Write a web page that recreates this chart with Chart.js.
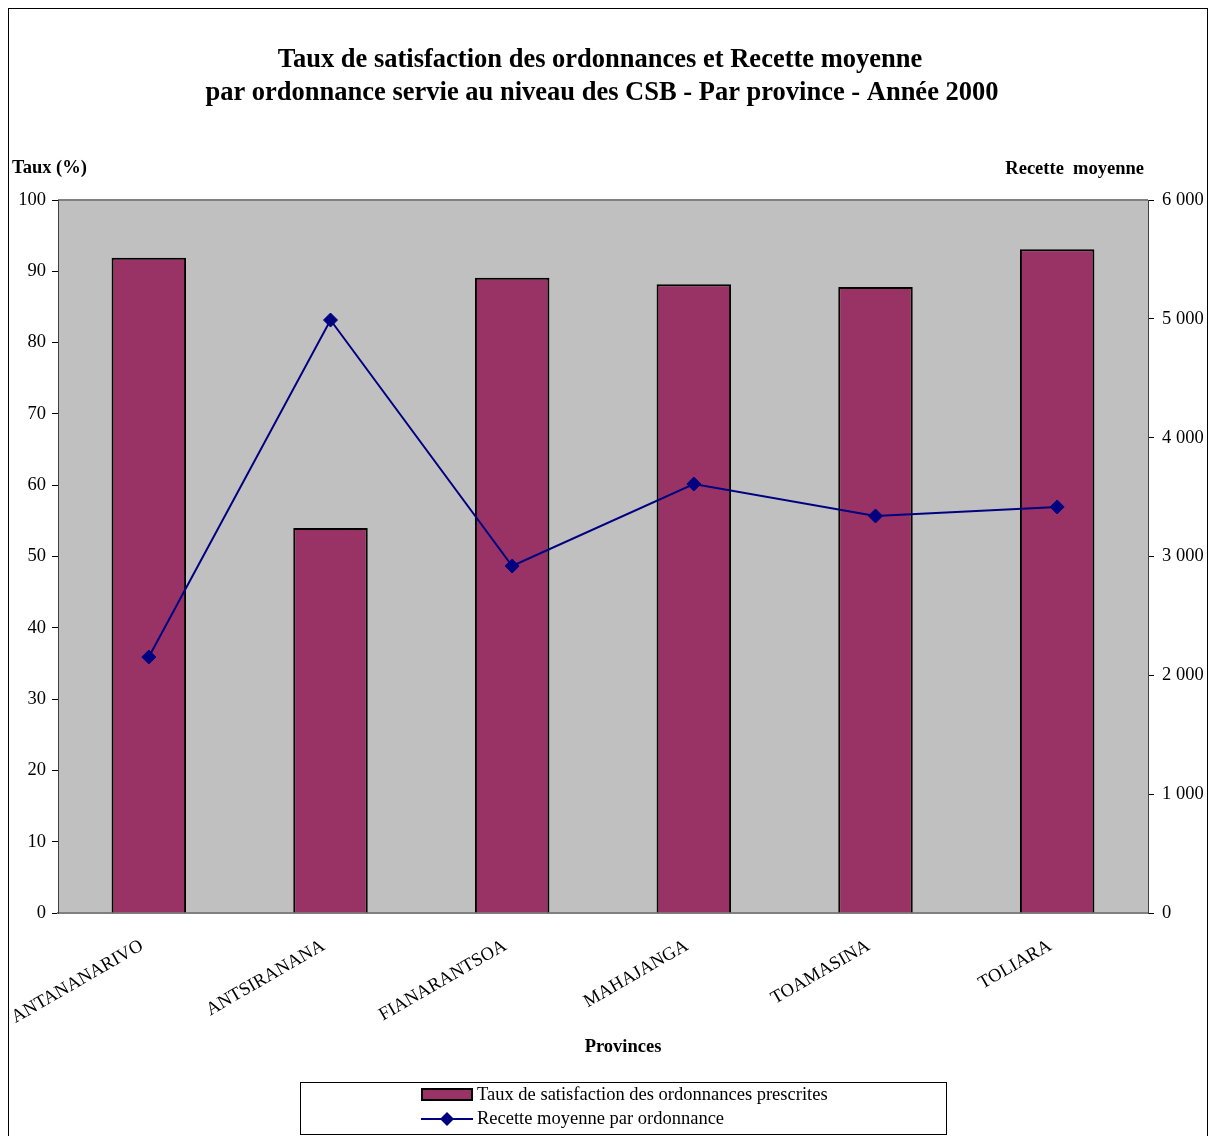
<!DOCTYPE html>
<html>
<head>
<meta charset="utf-8">
<title>Taux de satisfaction des ordonnances - CSB 2000</title>
<script src="https://cdn.jsdelivr.net/npm/chart.js@4.4.0/dist/chart.umd.min.js"></script>
<style>
  html, body { margin: 0; padding: 0; background: #fff; }
  #wrap { width: 1214px; height: 1136px; }
</style>
</head>
<body>
<div id="wrap"><canvas id="chart" width="1214" height="1136"></canvas></div>
<script>
// ============================================
// Data
// ============================================
const provinces = ["ANTANANARIVO", "ANTSIRANANA", "FIANARANTSOA", "MAHAJANGA", "TOAMASINA", "TOLIARA"];
const tauxSatisfaction = [91.9, 54.0, 89.1, 88.2, 87.8, 93.1];
const recetteMoyenne = [2154, 4990, 2920, 3610, 3341, 3417];

const titleLines = [
  "Taux de satisfaction des ordonnances et Recette moyenne",
  "par ordonnance servie au niveau des CSB - Par province - Année 2000",
];
const SERIF = "'Liberation Serif', 'Times New Roman', serif";
const FONT_SIZE = 18.5;
const BAR_COLOR = "#993366";
const LINE_COLOR = "#000080";

// space as thousands separator, like "6 000"
function fmtThousands(v) {
  return String(v).replace(/\B(?=(\d{3})+(?!\d))/g, " ");
}

// ============================================
// Plugins: plot background, frame, texts, legend
// ============================================
const decorPlugin = {
  id: "decor",
  beforeDraw(chart) {
    const { ctx, chartArea: a } = chart;
    ctx.save();
    ctx.fillStyle = "#fff";
    ctx.fillRect(0, 0, chart.width, chart.height);
    // outer frame
    ctx.strokeStyle = "#000";
    ctx.lineWidth = 1;
    ctx.strokeRect(8.5, 8.5, 1199, 1140);
    // plot area
    ctx.fillStyle = "#C0C0C0";
    ctx.fillRect(a.left, a.top, a.right - a.left, a.bottom - a.top);
    ctx.strokeStyle = "#808080";
    ctx.lineWidth = 2;
    ctx.beginPath();
    ctx.moveTo(a.left, a.top);
    ctx.lineTo(a.right, a.top);
    ctx.stroke();
    ctx.restore();
  },
  afterDraw(chart) {
    const { ctx, chartArea: a } = chart;
    ctx.save();
    ctx.fillStyle = "#000";
    ctx.textBaseline = "middle";

    // title
    ctx.font = "bold 26.5px " + SERIF;
    ctx.textAlign = "center";
    ctx.fillText(titleLines[0], 600, 60);
    ctx.fillText(titleLines[1], 602, 93);

    // axis titles
    ctx.font = "bold " + FONT_SIZE + "px " + SERIF;
    ctx.textAlign = "left";
    ctx.fillText("Taux (%)", 12, a.top - 32);
    ctx.textAlign = "right";
    ctx.fillText("Recette  moyenne", a.right - 4, a.top - 31);
    ctx.textAlign = "center";
    ctx.fillText("Provinces", 623, 1047);

    // legend
    const lx = 300, ly = 1082, lw = 646, lh = 52;
    ctx.strokeStyle = "#000";
    ctx.lineWidth = 1;
    ctx.strokeRect(lx + 0.5, ly + 0.5, lw, lh);
    const ds = chart.data.datasets;
    const barDs = ds.find((d) => d.type === "bar");
    const lineDs = ds.find((d) => d.type === "line");
    ctx.font = FONT_SIZE + "px " + SERIF;
    ctx.textAlign = "left";

    // bar entry
    ctx.fillStyle = BAR_COLOR;
    ctx.fillRect(422, 1089, 50, 11);
    ctx.strokeStyle = "#000";
    ctx.lineWidth = 2;
    ctx.strokeRect(422, 1089, 50, 11);
    ctx.fillStyle = "#000";
    ctx.fillText(barDs.label, 477, 1095);

    // line entry
    ctx.strokeStyle = LINE_COLOR;
    ctx.lineWidth = 2;
    ctx.beginPath();
    ctx.moveTo(421, 1119);
    ctx.lineTo(473, 1119);
    ctx.stroke();
    ctx.fillStyle = LINE_COLOR;
    ctx.beginPath();
    ctx.moveTo(447, 1112);
    ctx.lineTo(454, 1119);
    ctx.lineTo(447, 1126);
    ctx.lineTo(440, 1119);
    ctx.closePath();
    ctx.fill();
    ctx.fillStyle = "#000";
    ctx.fillText(lineDs.label, 477, 1119);
    ctx.restore();
  },
};

// ============================================
// Chart
// ============================================
const ctx = document.getElementById("chart").getContext("2d");
new Chart(ctx, {
  data: {
    labels: provinces,
    datasets: [
      {
        type: "line",
        label: "Recette moyenne par ordonnance",
        data: recetteMoyenne,
        yAxisID: "y1",
        borderColor: LINE_COLOR,
        backgroundColor: LINE_COLOR,
        borderWidth: 2,
        pointStyle: "rectRot",
        pointRadius: 7,
        pointBorderWidth: 1,
        tension: 0,
        order: 0,
      },
      {
        type: "bar",
        label: "Taux de satisfaction des ordonnances prescrites",
        data: tauxSatisfaction,
        yAxisID: "y",
        backgroundColor: BAR_COLOR,
        borderColor: "#000",
        borderWidth: 2,
        categoryPercentage: 1,
        barPercentage: 0.41,
        order: 1,
      },
    ],
  },
  options: {
    responsive: false,
    animation: false,
    layout: { padding: { top: 200, left: 0, right: 0, bottom: 0 } },
    plugins: {
      legend: { display: false },
      title: { display: false },
      tooltip: { enabled: false },
    },
    scales: {
      x: {
        grid: { display: false, drawTicks: false },
        border: { color: "#808080", width: 2 },
        ticks: {
          autoSkip: false,
          minRotation: 30,
          maxRotation: 30,
          padding: 22,
          labelOffset: -7,
          color: "#000",
          font: { family: SERIF, size: FONT_SIZE },
        },
        afterFit(scale) {
          scale.height = 223;
          // rotated first label must not push the plot area right
          scale.paddingLeft = 0;
          scale.paddingRight = 0;
        },
      },
      y: {
        position: "left",
        min: 0,
        max: 100,
        grid: { drawOnChartArea: false, tickLength: 6, color: "#000" },
        border: { color: "#404040", width: 1 },
        ticks: {
          stepSize: 10,
          padding: 6,
          color: "#000",
          font: { family: SERIF, size: FONT_SIZE },
        },
        afterFit(scale) {
          scale.width = 58;
        },
      },
      y1: {
        position: "right",
        min: 0,
        max: 6000,
        grid: { drawOnChartArea: false, tickLength: 6, color: "#000" },
        border: { color: "#404040", width: 1 },
        ticks: {
          stepSize: 1000,
          padding: 8,
          color: "#000",
          font: { family: SERIF, size: FONT_SIZE },
          callback: (v) => fmtThousands(v),
        },
        afterFit(scale) {
          scale.width = 66;
        },
      },
    },
  },
  plugins: [decorPlugin],
});
</script>
</body>
</html>
